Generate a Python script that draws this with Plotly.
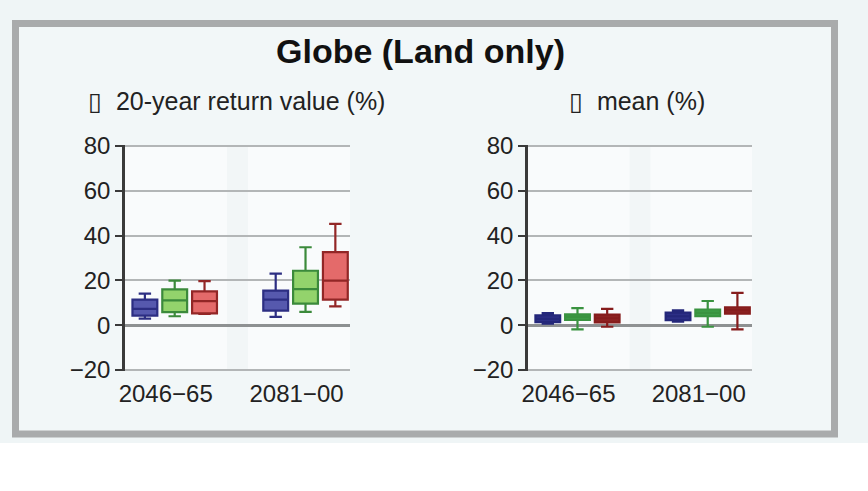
import plotly.graph_objects as go
from plotly.subplots import make_subplots

W, H = 868, 491

periods = ["2046\u221265", "2081\u221200"]
series_names = ["low", "medium", "high"]

# 20-year return value (%)
rv_low   = {"lo": [2.9, 3.7], "q1": [4.3, 6.5],  "med": [7.3, 11.4],  "q3": [11.4, 15.4], "hi": [14.1, 23.0]}
rv_mid   = {"lo": [4.0, 5.9], "q1": [5.8, 9.6],  "med": [11.1, 16.1], "q3": [16.0, 24.3], "hi": [19.9, 34.8]}
rv_high  = {"lo": [5.0, 8.4], "q1": [5.3, 11.4], "med": [10.7, 19.9], "q3": [15.1, 32.6], "hi": [19.7, 45.2]}

# mean (%)
mn_low   = {"lo": [0.7, 1.6],   "q1": [1.4, 2.3], "med": [2.8, 4.0], "q3": [4.4, 5.6], "hi": [5.4, 6.6]}
mn_mid   = {"lo": [-1.9, -0.7], "q1": [2.4, 4.0], "med": [3.7, 5.5], "q3": [4.8, 7.0], "hi": [7.6, 10.8]}
mn_high  = {"lo": [-0.7, -1.9], "q1": [1.3, 5.2], "med": [3.1, 6.7], "q3": [4.7, 8.0], "hi": [7.3, 14.4]}

title_text = "Globe (Land only)"
sub_left = "\u25af  20-year return value (%)"
sub_right = "\u25af  mean (%)"
y_ticks = [-20, 0, 20, 40, 60, 80]

left_colors = [("#2c2e82", "#5659ae"), ("#3b8a3b", "#93d36c"), ("#922626", "#e46a6a")]
right_colors = [("#24277a", "#2c2f86"), ("#3a9340", "#3f9e48"), ("#861c1c", "#8d2222")]

FONT = "Liberation Sans, Arial, sans-serif"

fig = make_subplots(rows=1, cols=2)

for col, group, sets, colors in [(1, "left", [rv_low, rv_mid, rv_high], left_colors),
                                 (2, "right", [mn_low, mn_mid, mn_high], right_colors)]:
    for name, d, (lc, fc) in zip(series_names, sets, colors):
        fig.add_trace(go.Box(
            x=periods, q1=d["q1"], median=d["med"], q3=d["q3"],
            lowerfence=d["lo"], upperfence=d["hi"],
            name=name, line=dict(color=lc, width=2.2), fillcolor=fc,
            alignmentgroup=group, offsetgroup=name,
            whiskerwidth=0.5, boxpoints=False, showlegend=False,
            hoverinfo="skip"), row=1, col=col)

def px_x(p):
    return p / W

def px_y(p):
    return 1 - p / H

y_dom = [px_y(371.1), px_y(144.9)]
x_dom1 = [px_x(125), px_x(350)]
x_dom2 = [px_x(528), px_x(752)]

shapes = [
    dict(type="rect", xref="paper", yref="paper", x0=0, x1=1, y0=px_y(443), y1=1,
         fillcolor="#eff5f6", line=dict(width=0), layer="below"),
    dict(type="rect", xref="paper", yref="paper", x0=px_x(15.5), x1=px_x(834.5),
         y0=px_y(434), y1=px_y(23.5), fillcolor="#f2f7f8",
         line=dict(color="#a9abac", width=7), layer="below"),
]
for xd in (x_dom1, x_dom2):
    shapes.append(dict(type="rect", xref="paper", yref="paper", x0=xd[0], x1=xd[1],
                       y0=y_dom[0], y1=y_dom[1], fillcolor="#f9fbfc",
                       line=dict(width=0), layer="below"))
for xr, yr in (("x", "y"), ("x2", "y2")):
    shapes.append(dict(type="rect", xref=xr, yref=yr + " domain", x0=0.40, x1=0.56,
                       y0=0, y1=1, fillcolor="#f2f6f7", line=dict(width=0), layer="below"))

fig.update_layout(
    width=W, height=H, margin=dict(l=0, r=0, t=0, b=0, autoexpand=False),
    paper_bgcolor="#ffffff", plot_bgcolor="rgba(0,0,0,0)",
    boxmode="group", boxgap=0.316, boxgroupgap=0.167,
    font=dict(family=FONT, color="#222222"),
    shapes=shapes,
    annotations=[
        dict(text="<b>" + title_text + "</b>", xref="paper", yref="paper",
             x=px_x(420), y=px_y(51), xanchor="center", yanchor="middle",
             showarrow=False, font=dict(size=34, color="#111111", family=FONT)),
        dict(text=sub_left, xref="paper", yref="paper", x=px_x(86), y=px_y(101),
             xanchor="left", yanchor="middle", showarrow=False,
             font=dict(size=25, color="#222222", family=FONT)),
        dict(text=sub_right, xref="paper", yref="paper", x=px_x(567), y=px_y(101),
             xanchor="left", yanchor="middle", showarrow=False,
             font=dict(size=25, color="#222222", family=FONT)),
    ],
)

for i, xd in ((1, x_dom1), (2, x_dom2)):
    fig.update_xaxes(domain=xd, type="category", range=[-0.38, 1.34], automargin=False,
                     showline=False, showgrid=False, zeroline=False, ticks="",
                     tickfont=dict(size=24, color="#222222"),
                     ticklabelshift=-9, ticklabelstandoff=6,
                     row=1, col=i)
    fig.update_yaxes(domain=y_dom, range=[-20.5, 80.5], tickvals=y_ticks, automargin=False,
                     showgrid=True, gridcolor="#b3b6b7", gridwidth=1.5,
                     zeroline=True, zerolinecolor="#8e9192", zerolinewidth=3,
                     showline=True, linecolor="#3a3a3a", linewidth=2.5,
                     ticks="outside", ticklen=7, tickwidth=2, tickcolor="#3a3a3a",
                     tickfont=dict(size=24, color="#222222"),
                     row=1, col=i)

fig.write_html("out.html", config={"displayModeBar": False},
               post_script="document.body.style.margin='0';document.body.style.overflow='hidden';")
